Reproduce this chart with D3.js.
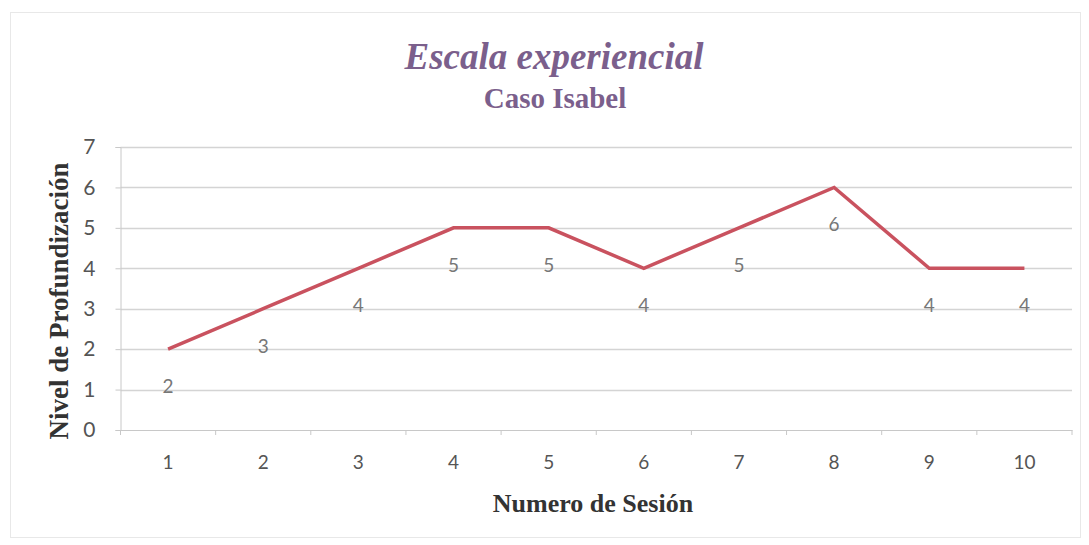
<!DOCTYPE html>
<html><head><meta charset="utf-8">
<script src="https://cdn.jsdelivr.net/npm/d3@7"></script>
<style>body{margin:0;background:#fff}svg{display:block}</style>
</head><body>
<svg id="c" width="1089" height="545"></svg>
<script>
const sessions = [1,2,3,4,5,6,7,8,9,10];
const levels = [2,3,4,5,5,4,5,6,4,4];
const yTicks = [0,1,2,3,4,5,6,7];
const title = "Escala experiencial";
const subtitle = "Caso Isabel";
const xTitle = "Numero de Sesión";
const yTitle = "Nivel de Profundización";

const svg = d3.select("#c");
const m = {l:120.5, r:1072, t:147, b:430};
svg.append("rect").attr("x",10.5).attr("y",12.5).attr("width",1070).attr("height",525)
  .attr("fill","none").attr("stroke","#e8e8e8");

const x = d3.scaleBand().domain(sessions).range([m.l, m.r]);
const y = d3.scaleLinear().domain([0,7]).range([m.b, m.t]);

// gridlines
svg.append("g").selectAll("line").data(yTicks.filter(d=>d>0)).join("line")
  .attr("x1",m.l).attr("x2",m.r).attr("y1",d=>Math.round(y(d))+0.5).attr("y2",d=>Math.round(y(d))+0.5)
  .attr("stroke","#d4d4d4").attr("stroke-width",1.3);

// y axis
const ya = svg.append("g").attr("transform",`translate(${m.l},0)`)
  .call(d3.axisLeft(y).tickValues(yTicks).tickFormat(d3.format("d")).tickSize(5).tickPadding(20));
ya.select(".domain").attr("stroke","#c8c8c8");
ya.selectAll(".tick line").attr("stroke","#c8c8c8");
ya.selectAll(".tick text").attr("font-family","Lato, 'Open Sans', sans-serif").attr("font-size",21).attr("fill","#555");

// x axis
const xa = svg.append("g").attr("transform",`translate(0,${m.b})`)
  .call(d3.axisBottom(x).tickSize(0).tickPadding(26));
xa.select(".domain").attr("stroke","#c8c8c8");
xa.selectAll(".tick text").attr("font-family","Lato, 'Open Sans', sans-serif").attr("font-size",19).attr("fill","#555");
// category separator ticks
svg.append("g").selectAll("line").data(sessions).join("line")
  .attr("x1",d=>x(d)).attr("x2",d=>x(d)).attr("y1",m.b).attr("y2",m.b+5).attr("stroke","#c8c8c8");
svg.append("line").attr("x1",m.r).attr("x2",m.r).attr("y1",m.b).attr("y2",m.b+5).attr("stroke","#c8c8c8");

// line
const line = d3.line().x((d,i)=>x(sessions[i])+x.bandwidth()/2).y(d=>y(d));
svg.append("path").datum(levels).attr("d",line).attr("fill","none")
  .attr("stroke","#c9525f").attr("stroke-width",3.5).attr("stroke-linejoin","miter");

// data labels
svg.append("g").selectAll("text").data(levels).join("text")
  .attr("x",(d,i)=>x(sessions[i])+x.bandwidth()/2).attr("y",d=>y(d)+44)
  .attr("text-anchor","middle").attr("font-family","Lato, 'Open Sans', sans-serif").attr("font-size",19)
  .attr("fill","#777").text(d=>d);

// titles
svg.append("text").attr("x",554).attr("y",69).attr("text-anchor","middle")
  .attr("font-family","'Liberation Serif', serif").attr("font-style","italic").attr("font-weight","bold")
  .attr("font-size",37).attr("fill","#7b5f8c").text(title);
svg.append("text").attr("x",555).attr("y",108).attr("text-anchor","middle")
  .attr("font-family","'Liberation Serif', serif").attr("font-weight","bold")
  .attr("font-size",29).attr("fill","#7b5f8c").text(subtitle);
svg.append("text").attr("x",593).attr("y",512).attr("text-anchor","middle")
  .attr("font-family","'Liberation Serif', serif").attr("font-weight","bold")
  .attr("font-size",26).attr("fill","#333").text(xTitle);
svg.append("text").attr("transform","translate(68,301) rotate(-90)").attr("text-anchor","middle")
  .attr("font-family","'Liberation Serif', serif").attr("font-weight","bold")
  .attr("font-size",27).attr("fill","#333").text(yTitle);
</script>
</body></html>
